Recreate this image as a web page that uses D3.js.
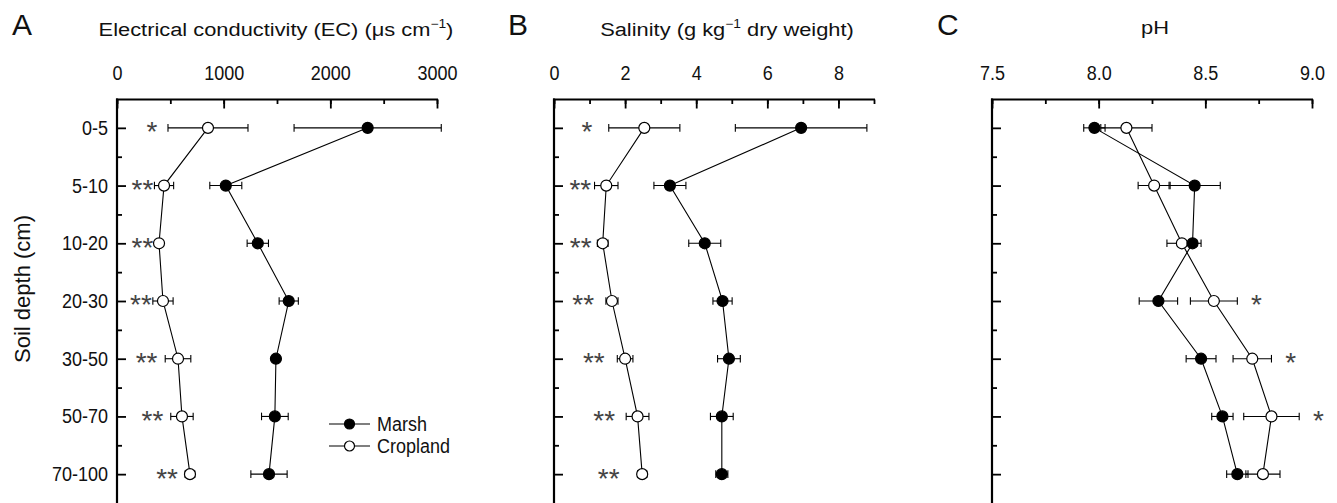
<!DOCTYPE html>
<html>
<head>
<meta charset="utf-8">
<script src="https://cdn.jsdelivr.net/npm/d3@7"></script>
<style>
  body { margin: 0; background: #fff; }
  svg text { font-family: "Liberation Sans", Arial, sans-serif; fill: #111; }
  .domain { stroke: #000; stroke-width: 2.2; }
  .tick line { stroke: #000; stroke-width: 1.8; }
</style>
</head>
<body>
<div id="chart"></div>
<script>
// depth classes (rows)
var depths = ["0-5", "5-10", "10-20", "20-30", "30-50", "50-70", "70-100"];

// A: electrical conductivity
var ecMarsh    = [2350, 1020, 1320, 1610, 1490, 1480, 1425];
var ecMarshErr = [690, 150, 100, 90, 30, 125, 170];
var ecCrop     = [853, 441, 394, 431, 572, 609, 684];
var ecCropErr  = [375, 90, 30, 95, 120, 105, 45];
var ecStars    = ["*", "**", "**", "**", "**", "**", "**"];
var ecStarX    = [328, 239, 239, 225, 277, 333, 469];

// B: salinity
var salMarsh    = [6.95, 3.26, 4.24, 4.74, 4.92, 4.72, 4.72];
var salMarshErr = [1.85, 0.45, 0.45, 0.27, 0.32, 0.32, 0.17];
var salCrop     = [2.54, 1.47, 1.37, 1.63, 2.0, 2.35, 2.48];
var salCropErr  = [1.0, 0.33, 0.15, 0.17, 0.22, 0.32, 0.13];
var salStars    = ["*", "**", "**", "**", "**", "**", "**"];
var salStarX    = [0.93, 0.74, 0.75, 0.82, 1.12, 1.41, 1.54];

// C: pH
var phMarsh    = [7.98, 8.45, 8.44, 8.28, 8.48, 8.58, 8.65];
var phMarshErr = [0.05, 0.12, 0.04, 0.09, 0.07, 0.05, 0.05];
var phCrop     = [8.13, 8.26, 8.39, 8.54, 8.72, 8.81, 8.77];
var phCropErr  = [0.12, 0.075, 0.07, 0.11, 0.09, 0.13, 0.08];
var phStars    = ["", "", "", "*", "*", "*", ""];
var phStarX    = [0, 0, 0, 8.74, 8.90, 9.03, 0];

var ecTicks  = [0, 1000, 2000, 3000];
var salTicks = [0, 2, 4, 6, 8];
var phTicks  = [7.5, 8.0, 8.5, 9.0];

var W = 1337, H = 503;
var axisTop = 99.5, axisBottom = 503;
var plotW = 320;
var tallText = " scale(1,1.12)"; // the figure's small text is a bit taller than plain Arial

var svg = d3.select("#chart").append("svg")
    .attr("width", W)
    .attr("height", H);

var y = d3.scaleLinear()
    .domain([-0.5, 6.5])
    .range([axisTop - 0.5, axisBottom]);

var panels = [
  { letter: "A", left: 117, dom: [0, 3000], ticks: ecTicks, minor: 500, fmt: d3.format("d"),
    marsh: ecMarsh, marshErr: ecMarshErr, crop: ecCrop, cropErr: ecCropErr,
    stars: ecStars, starX: ecStarX, letterX: 12, titleX: 276, titleY: 36, yLabels: true, legend: true },
  { letter: "B", left: 554, dom: [0, 9], ticks: salTicks, minor: 1, fmt: d3.format("d"),
    marsh: salMarsh, marshErr: salMarshErr, crop: salCrop, cropErr: salCropErr,
    stars: salStars, starX: salStarX, letterX: 508, titleX: 727, titleY: 36 },
  { letter: "C", left: 992, dom: [7.5, 9.0], ticks: phTicks, minor: 0.25, fmt: d3.format(".1f"),
    marsh: phMarsh, marshErr: phMarshErr, crop: phCrop, cropErr: phCropErr,
    stars: phStars, starX: phStarX, letterX: 937, titleX: 1155, titleY: 34 }
];

panels.forEach(function(p) {
  var x = d3.scaleLinear().domain(p.dom).range([p.left, p.left + plotW]);
  var g = svg.append("g");

  // panel letter
  g.append("text")
    .attr("x", p.letterX)
    .attr("y", 35)
    .attr("font-size", 30)
    .text(p.letter);

  // title
  var title = g.append("text")
    .attr("transform", "translate(" + p.titleX + "," + p.titleY + ") scale(1.15,1)")
    .attr("text-anchor", "middle")
    .attr("font-size", 19);
  if (p.letter == "A") {
    title.append("tspan").text("Electrical conductivity (EC) (\u03bcs cm");
    title.append("tspan").attr("font-size", 12).attr("dy", -8).text("\u22121");
    title.append("tspan").attr("dy", 8).text(")");
  } else if (p.letter == "B") {
    title.append("tspan").text("Salinity (g kg");
    title.append("tspan").attr("font-size", 12).attr("dy", -8).text("\u22121");
    title.append("tspan").attr("dy", 8).text(" dry weight)");
  } else {
    title.text("pH");
  }

  // x axis on top, minor then major
  var minorVals = d3.range(p.dom[0], p.dom[1] + p.minor / 2, p.minor);
  g.append("g")
    .attr("transform", "translate(0," + axisTop + ")")
    .call(d3.axisTop(x).tickValues(minorVals).tickSizeInner(-4.5).tickSizeOuter(0).tickFormat(""))
    .call(function(a) { a.select(".domain").remove(); });
  g.append("g")
    .attr("transform", "translate(0," + axisTop + ")")
    .call(d3.axisTop(x).tickValues(p.ticks).tickSizeInner(-9).tickSizeOuter(0).tickPadding(21).tickFormat(p.fmt))
    .call(function(a) {
      a.selectAll("text")
        .attr("font-size", 18).attr("fill", "#111")
        .attr("y", 0)
        .attr("transform", "translate(0,-20)" + tallText);
      a.select(".domain").attr("d", "M" + (p.left - 1) + ",0H" + (p.left + plotW + 1));
    });

  // y axis, minor then major
  g.append("g")
    .attr("transform", "translate(" + p.left + ",0)")
    .call(d3.axisLeft(y).tickValues(d3.range(0.5, 6.5, 1)).tickSizeInner(-5).tickSizeOuter(0).tickFormat(""))
    .call(function(a) { a.select(".domain").remove(); });
  g.append("g")
    .attr("transform", "translate(" + p.left + ",0)")
    .call(d3.axisLeft(y).tickValues(d3.range(0, 7)).tickSizeInner(-9).tickSizeOuter(0).tickPadding(9)
      .tickFormat(function(i) { return p.yLabels ? depths[i] : ""; }))
    .call(function(a) {
      a.selectAll("text")
        .attr("font-size", 18).attr("fill", "#111")
        .attr("x", 0)
        .attr("transform", "translate(-9,0)" + tallText);
      a.select(".domain").attr("d", "M0," + (axisTop - 1) + "V" + axisBottom);
    });

  var series = [
    { vals: p.crop, errs: p.cropErr, fill: "#fff" },
    { vals: p.marsh, errs: p.marshErr, fill: "#000" }
  ];

  var line = d3.line()
    .x(function(d) { return x(d); })
    .y(function(d, i) { return y(i); });

  series.forEach(function(s) {
    g.append("path")
      .attr("d", line(s.vals))
      .attr("fill", "none")
      .attr("stroke", "#000")
      .attr("stroke-width", 1.1);
  });

  series.forEach(function(s) {
    var eb = g.append("g").attr("stroke", "#000").attr("stroke-width", 1.1);
    s.vals.forEach(function(v, i) {
      var lo = x(v - s.errs[i]), hi = x(v + s.errs[i]), cy = y(i);
      eb.append("line").attr("x1", lo).attr("x2", hi).attr("y1", cy).attr("y2", cy);
      eb.append("line").attr("x1", lo).attr("x2", lo).attr("y1", cy - 3.8).attr("y2", cy + 3.8);
      eb.append("line").attr("x1", hi).attr("x2", hi).attr("y1", cy - 3.8).attr("y2", cy + 3.8);
    });
  });

  series.forEach(function(s) {
    g.append("g").selectAll("circle")
      .data(s.vals)
      .enter()
      .append("circle")
      .attr("cx", function(d) { return x(d); })
      .attr("cy", function(d, i) { return y(i); })
      .attr("r", 5.5)
      .attr("fill", s.fill)
      .attr("stroke", "#000")
      .attr("stroke-width", 1.2);
  });

  // significance stars
  g.append("g").selectAll("text")
    .data(p.stars)
    .enter()
    .append("text")
    .attr("x", function(d, i) { return x(p.starX[i]); })
    .attr("y", function(d, i) { return y(i); })
    .attr("dy", "0.48em")
    .attr("text-anchor", "middle")
    .attr("font-size", 28)
    .style("fill", "#444")
    .text(function(d) { return d; });

  // y title and legend live in panel A
  if (p.yLabels) {
    svg.append("text")
      .attr("transform", "translate(30," + 289 + ") rotate(-90)")
      .attr("text-anchor", "middle")
      .attr("font-size", 22)
      .text("Soil depth (cm)");
  }
  if (p.legend) {
    var items = [{ name: "Marsh", fill: "#000" }, { name: "Cropland", fill: "#fff" }];
    var lg = svg.append("g")
      .selectAll("g")
      .data(items)
      .enter()
      .append("g")
      .attr("transform", function(d, i) { return "translate(329," + (424 + i * 22) + ")"; });
    lg.append("line")
      .attr("x1", 0).attr("x2", 41)
      .attr("stroke", "#000").attr("stroke-width", 1.1);
    lg.append("circle")
      .attr("cx", 20.5).attr("r", 5)
      .attr("fill", function(d) { return d.fill; })
      .attr("stroke", "#000").attr("stroke-width", 1.2);
    lg.append("text")
      .attr("transform", "translate(48,0)" + tallText)
      .attr("dy", "0.35em")
      .attr("font-size", 18)
      .text(function(d) { return d.name; });
  }
});
</script>
</body>
</html>
